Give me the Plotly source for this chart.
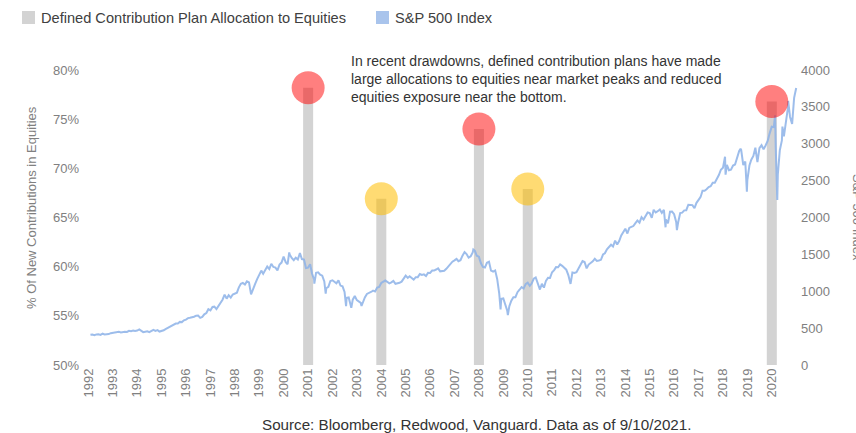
import plotly.graph_objects as go
import pandas as pd

# ---------------- data ----------------
alloc_years = ["2001-01-01", "2004-01-01", "2008-01-01", "2010-01-01", "2020-01-01"]
alloc_values = [0.782, 0.669, 0.740, 0.679, 0.768]
alloc_flags = ["peak", "bottom", "peak", "bottom", "peak"]

sp_monthly = {
    1992: [408.8, 412.7, 403.7, 414.9, 415.4, 408.1, 424.2, 414.0, 417.8, 418.7, 431.4, 435.7],
    1993: [438.8, 443.4, 451.7, 440.2, 450.2, 451.0, 448.1, 463.6, 458.9, 467.8, 461.8, 466.5],
    1994: [481.6, 467.1, 445.8, 450.9, 456.5, 444.3, 458.3, 475.5, 462.7, 472.4, 453.7, 459.3],
    1995: [470.4, 487.4, 500.7, 514.7, 533.4, 544.8, 562.1, 561.9, 584.4, 581.5, 605.4, 615.9],
    1996: [636.0, 640.4, 645.5, 654.2, 669.1, 670.6, 639.9, 652.0, 687.3, 705.3, 757.0, 740.7],
    1997: [786.2, 790.8, 757.1, 801.3, 848.3, 885.1, 954.3, 899.5, 947.3, 914.6, 955.4, 970.4],
    1998: [980.3, 1049.3, 1101.8, 1111.8, 1090.8, 1133.8, 1120.7, 957.3, 1017.0, 1098.7, 1163.6, 1229.2],
    1999: [1279.6, 1238.3, 1286.4, 1335.2, 1301.8, 1372.7, 1328.7, 1320.4, 1282.7, 1362.9, 1388.9, 1469.3],
    2000: [1394.5, 1366.4, 1498.6, 1452.4, 1420.6, 1454.6, 1430.8, 1517.7, 1436.5, 1429.4, 1314.9, 1320.3],
    2001: [1366.0, 1239.9, 1160.3, 1249.5, 1255.8, 1224.4, 1211.2, 1133.6, 1040.9, 1059.8, 1139.5, 1148.1],
    2002: [1130.2, 1106.7, 1147.4, 1076.9, 1067.1, 989.8, 911.6, 916.1, 815.3, 885.8, 936.3, 879.8],
    2003: [855.7, 841.2, 848.2, 916.9, 963.6, 974.5, 990.3, 1008.0, 996.0, 1050.7, 1058.2, 1111.9],
    2004: [1131.1, 1144.9, 1126.2, 1107.3, 1120.7, 1140.8, 1101.7, 1104.2, 1114.6, 1130.2, 1173.8, 1211.9],
    2005: [1181.3, 1203.6, 1180.6, 1156.9, 1191.5, 1191.3, 1234.2, 1220.3, 1228.8, 1207.0, 1249.5, 1248.3],
    2006: [1280.1, 1280.7, 1294.9, 1310.6, 1270.1, 1270.2, 1276.7, 1303.8, 1335.9, 1377.9, 1400.6, 1418.3],
    2007: [1438.2, 1406.8, 1420.9, 1482.4, 1530.6, 1503.4, 1455.3, 1474.0, 1526.8, 1549.4, 1481.1, 1468.4],
    2008: [1378.6, 1330.6, 1322.7, 1385.6, 1400.4, 1280.0, 1267.4, 1282.8, 1166.4, 968.8, 896.2, 903.3],
    2009: [825.9, 735.1, 797.9, 872.8, 919.1, 919.3, 987.5, 1020.6, 1057.1, 1036.2, 1095.6, 1115.1],
    2010: [1073.9, 1104.5, 1169.4, 1186.7, 1089.4, 1030.7, 1101.6, 1049.3, 1141.2, 1183.3, 1180.6, 1257.6],
    2011: [1286.1, 1327.2, 1325.8, 1363.6, 1345.2, 1320.6, 1292.3, 1218.9, 1131.4, 1253.3, 1247.0, 1257.6],
    2012: [1312.4, 1365.7, 1408.5, 1397.9, 1310.3, 1362.2, 1379.3, 1406.6, 1440.7, 1412.2, 1416.2, 1426.2],
    2013: [1498.1, 1514.7, 1569.2, 1597.6, 1630.7, 1606.3, 1685.7, 1633.0, 1681.6, 1756.5, 1805.8, 1848.4],
    2014: [1782.6, 1859.5, 1872.3, 1884.0, 1923.6, 1960.2, 1930.7, 2003.4, 1972.3, 2018.1, 2067.6, 2058.9],
    2015: [1995.0, 2104.5, 2067.9, 2085.5, 2107.4, 2063.1, 2103.8, 1972.2, 1920.0, 2079.4, 2080.4, 2043.9],
    2016: [1940.2, 1932.2, 2059.7, 2065.3, 2097.0, 2098.9, 2173.6, 2171.0, 2168.3, 2126.2, 2198.8, 2238.8],
    2017: [2278.9, 2363.6, 2362.7, 2384.2, 2411.8, 2423.4, 2470.3, 2471.7, 2519.4, 2575.3, 2647.6, 2673.6],
    2018: [2823.8, 2713.8, 2640.9, 2648.1, 2705.3, 2718.4, 2816.3, 2901.5, 2914.0, 2711.7, 2760.2, 2506.9],
    2019: [2704.1, 2784.5, 2834.4, 2945.8, 2752.1, 2941.8, 2980.4, 2926.5, 2976.7, 3037.6, 3141.0, 3230.8],
    2020: [3225.5, 2954.2, 2584.6, 2912.4, 3044.3, 3100.3, 3271.1, 3500.3, 3363.0, 3270.0, 3621.6, 3756.1],
}

# intra-month extremes visible in the picture
sp_extra_dates = ["2000-03-24", "2001-04-04", "2001-09-21", "2002-07-23", "2002-10-09",
                  "2003-03-11", "2007-10-09", "2008-11-20", "2009-03-09", "2010-07-02",
                  "2011-10-03", "2015-08-25", "2016-02-11", "2018-02-08", "2018-09-20",
                  "2018-12-24", "2020-02-19", "2020-03-23", "2020-06-08", "2020-09-02"]
sp_extra_values = [1527, 1103, 966, 797, 777,
                   800, 1565, 752, 677, 1023,
                   1099, 1867, 1829, 2581, 2931,
                   2351, 3386, 2237, 3232, 3580]

year_ticks = [str(y) for y in range(1992, 2021)]
legend_labels = ["Defined Contribution Plan Allocation to Equities", "S&P 500 Index"]

# ---------------- build series ----------------
rows = []
for yr, vals in sp_monthly.items():
    ends = pd.date_range(f"{yr}-01-01", periods=12, freq="ME")
    rows += list(zip(ends, vals))
rows += list(zip(pd.to_datetime(sp_extra_dates), sp_extra_values))
sp = pd.DataFrame(rows, columns=["date", "value"]).sort_values("date")

FONT = "Liberation Sans, Arial, sans-serif"
GRAY = "#808080"
BAR_COLOR = "#d3d3d3"
LINE_COLOR = "rgba(140,178,232,0.85)"
LEG_BLUE = "#a9c4ec"
circle_colors = ["rgba(255,0,0,0.5)" if f == "peak" else "rgba(255,190,0,0.55)" for f in alloc_flags]
bar_width_ms = 150 * 24 * 3600 * 1000

W, H = 856, 433
L, R, T, B = 80, 56, 70, 68
PW, PH = W - L - R, H - T - B


def px_x(px):
    return (px - L) / PW


def px_y(py):
    return (H - B - py) / PH


fig = go.Figure()

fig.add_trace(go.Bar(
    x=alloc_years, y=alloc_values, width=bar_width_ms,
    marker=dict(color=BAR_COLOR, line=dict(width=0)),
    name=legend_labels[0], yaxis="y", showlegend=False,
))
fig.add_trace(go.Scatter(
    x=sp["date"], y=sp["value"], mode="lines",
    line=dict(color=LINE_COLOR, width=2),
    name=legend_labels[1], yaxis="y2", showlegend=False,
))
fig.add_trace(go.Scatter(
    x=alloc_years, y=alloc_values, mode="markers",
    marker=dict(size=33, color=circle_colors, line=dict(width=0)),
    yaxis="y3", showlegend=False, hoverinfo="skip",
))

fig.update_layout(
    width=W, height=H,
    margin=dict(l=L, r=R, t=T, b=B, autoexpand=False),
    paper_bgcolor="white", plot_bgcolor="white",
    font=dict(family=FONT, size=13, color=GRAY),
    barmode="overlay",
    showlegend=False,
    xaxis=dict(
        type="date", range=["1991-08-28", "2021-02-26"], automargin=False,
        tickvals=[f"{y}-01-01" for y in year_ticks], ticktext=year_ticks,
        tickangle=-90, showgrid=False, zeroline=False, showline=False,
        tickfont=dict(size=13, color=GRAY),
    ),
    yaxis=dict(
        range=[0.5, 0.8], tickvals=[0.5, 0.55, 0.6, 0.65, 0.7, 0.75, 0.8], automargin=False,
        tickformat=".0%", showgrid=False, zeroline=False, showline=False,
        tickfont=dict(size=13, color=GRAY),
    ),
    yaxis2=dict(
        range=[0, 4000], tickvals=[0, 500, 1000, 1500, 2000, 2500, 3000, 3500, 4000],
        overlaying="y", side="right", showgrid=False, zeroline=False, showline=False,
        automargin=False, tickfont=dict(size=13, color=GRAY),
    ),
    yaxis3=dict(range=[0.5, 0.8], overlaying="y", visible=False),
)

# legend (drawn: square patches + labels)
leg_items = [(22, BAR_COLOR, legend_labels[0]), (376, LEG_BLUE, legend_labels[1])]
for x0, col, lab in leg_items:
    fig.add_shape(type="rect", xref="paper", yref="paper",
                  x0=px_x(x0), x1=px_x(x0 + 13), y0=px_y(24), y1=px_y(11),
                  fillcolor=col, line=dict(width=0))
    fig.add_annotation(text=lab, xref="paper", yref="paper",
                       x=px_x(x0 + 17), y=px_y(18), xanchor="left", yanchor="middle",
                       showarrow=False, font=dict(size=14.6, color="#404040", family=FONT))

# axis titles
fig.add_annotation(
    text="% Of New Contributions in Equities", textangle=-90,
    xref="paper", yref="paper", x=px_x(31), y=px_y(208),
    xanchor="center", yanchor="middle", showarrow=False,
    font=dict(size=13, color=GRAY, family=FONT),
)
fig.add_annotation(
    text="S&P 500 Index", textangle=90,
    xref="paper", yref="paper", x=px_x(858), y=px_y(217),
    xanchor="center", yanchor="middle", showarrow=False,
    font=dict(size=13, color=GRAY, family=FONT),
)

fig.add_annotation(
    text="In recent drawdowns, defined contribution plans have made<br>"
         "large allocations to equities near market peaks and reduced<br>"
         "equities exposure near the bottom.",
    xref="paper", yref="paper", x=px_x(349), y=px_y(51),
    xanchor="left", yanchor="top", align="left", showarrow=False,
    font=dict(size=14, color="#333333", family=FONT),
)
fig.add_annotation(
    text="Source: Bloomberg, Redwood, Vanguard. Data as of 9/10/2021.",
    xref="paper", yref="paper", x=px_x(476), y=px_y(424),
    xanchor="center", yanchor="middle", showarrow=False,
    font=dict(size=15.2, color="#333333", family=FONT),
)

fig.write_html(
    "out.html",
    config={"displayModeBar": False},
    post_script="document.body.style.margin='0';document.body.style.overflow='hidden';",
)
